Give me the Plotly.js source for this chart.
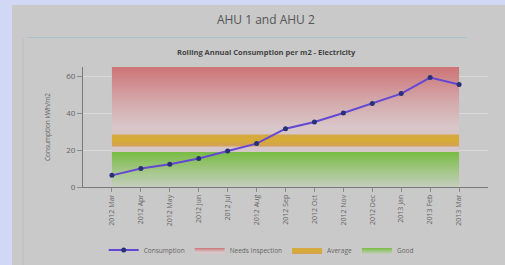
<!DOCTYPE html>
<html>
<head>
<meta charset="utf-8">
<script src="https://cdn.plot.ly/plotly-3.0.1.min.js"></script>
<style>
  html, body { margin: 0; padding: 0; background: #d0d8f6; width: 505px; height: 265px; overflow: hidden; }
  #chart { position: absolute; left: 12px; top: 5px; width: 493px; height: 260px; }
</style>
</head>
<body>
<div id="chart"></div>
<script>
// Categories (x tick labels)
const months = ["2012 Mar", "2012 Apr", "2012 May", "2012 Jun", "2012 Jul", "2012 Aug", "2012 Sep",
                "2012 Oct", "2012 Nov", "2012 Dec", "2013 Jan", "2013 Feb", "2013 Mar"];
// Rolling annual consumption per m2
const consumption = [6.3, 10, 12.3, 15.4, 19.5, 23.5, 31.6, 35.2, 40.1, 45.2, 50.6, 59.3, 55.5];
// Band limits
const goodHigh  = [19, 19, 19, 19, 19, 19, 19, 19, 19, 19, 19, 19, 19];
const avgLow    = [22, 22, 22, 22, 22, 22, 22, 22, 22, 22, 22, 22, 22];
const avgHigh   = [28.5, 28.5, 28.5, 28.5, 28.5, 28.5, 28.5, 28.5, 28.5, 28.5, 28.5, 28.5, 28.5];
const needsLow  = [19, 19, 19, 19, 19, 19, 19, 19, 19, 19, 19, 19, 19];
const needsHigh = [65, 65, 65, 65, 65, 65, 65, 65, 65, 65, 65, 65, 65];

const font = "Open Sans, Liberation Sans, Arial, sans-serif";
const noLine = {width: 0, color: "rgba(0,0,0,0)"};

const traces = [
  {x: months, y: needsLow, mode: "lines", line: noLine, showlegend: false, hoverinfo: "skip"},
  {x: months, y: needsHigh, name: "Needs Inspection", mode: "lines", line: noLine, fill: "tonexty",
   fillgradient: {type: "vertical", start: 19, stop: 65,
     colorscale: [[0, "rgb(214,198,200)"], [0.3, "rgb(216,198,200)"], [0.6, "rgb(212,168,170)"], [1, "rgb(204,116,118)"]]},
   legendrank: 2, hoverinfo: "skip"},
  {x: months, y: goodHigh, name: "Good", mode: "lines", line: noLine, fill: "tozeroy",
   fillgradient: {type: "vertical", start: 0, stop: 19,
     colorscale: [[0, "rgb(196,206,188)"], [0.5, "rgb(160,198,130)"], [1, "rgb(120,188,66)"]]},
   legendrank: 4, hoverinfo: "skip"},
  {x: months, y: avgLow, mode: "lines", line: noLine, showlegend: false, hoverinfo: "skip"},
  {x: months, y: avgHigh, name: "Average", mode: "lines", line: noLine, fill: "tonexty",
   fillgradient: {type: "vertical", start: 22, stop: 28.5,
     colorscale: [[0, "rgb(212,160,90)"], [0.5, "rgb(214,172,52)"], [1, "rgb(212,168,70)"]]},
   legendrank: 3, hoverinfo: "skip"},
  {x: months, y: consumption, name: "Consumption", mode: "lines+markers",
   line: {color: "rgb(100,72,212)", width: 2},
   marker: {color: "rgb(40,48,120)", size: 5},
   legendrank: 1}
];

const layout = {
  width: 493, height: 260,
  paper_bgcolor: "#c9c9c9", plot_bgcolor: "#c9c9c9",
  margin: {l: 71, r: 17, t: 62, b: 78, autoexpand: false},
  font: {family: font, color: "#555", size: 7},
  title: {text: "AHU 1 and AHU 2", x: 0.515, xanchor: "center", y: 0.942, yanchor: "middle",
          font: {family: font, size: 12, color: "#555"}},
  showlegend: true,
  legend: {orientation: "h", traceorder: "normal", x: 0.44, xanchor: "center", y: -0.525, yanchor: "middle",
           bgcolor: "rgba(0,0,0,0)", font: {family: font, size: 6.5, color: "#666"}, itemwidth: 30},
  xaxis: {type: "category", range: [-1, 13], showgrid: false, zeroline: false,
          showline: true, linecolor: "#7a7a7a", linewidth: 1,
          ticks: "outside", ticklen: 4, tickcolor: "#8a8a8a",
          tickangle: -90, tickfont: {family: font, size: 7, color: "#666"}},
  yaxis: {range: [0, 65], tickvals: [0, 20, 40, 60], showgrid: true, gridcolor: "#dadada", gridwidth: 1,
          zeroline: false, showline: true, linecolor: "#7a7a7a", linewidth: 1,
          ticks: "outside", ticklen: 5, tickcolor: "#8a8a8a",
          tickfont: {family: font, size: 8, color: "#666"},
          title: {text: "Consumption kWh/m2", font: {family: font, size: 6.5, color: "#666"}, standoff: 14}},
  annotations: [
    {text: "<b>Rolling Annual Consumption per m2 - Electricity</b>", xref: "paper", yref: "paper",
     x: 0.452, y: 1.125, xanchor: "center", yanchor: "middle", showarrow: false,
     font: {family: font, size: 7.5, color: "#444"}}
  ],
  shapes: [
    {type: "line", xref: "paper", yref: "paper", x0: -0.138, x1: 0.948, y0: 1.246, y1: 1.246,
     line: {color: "rgb(170,196,204)", width: 1}},
    {type: "line", xref: "paper", yref: "paper", x0: -0.148, x1: -0.148, y0: 1.246, y1: -0.7,
     line: {color: "rgb(190,190,190)", width: 1}}
  ]
};

Plotly.newPlot("chart", traces, layout, {staticPlot: true, displayModeBar: false});
</script>
</body>
</html>
